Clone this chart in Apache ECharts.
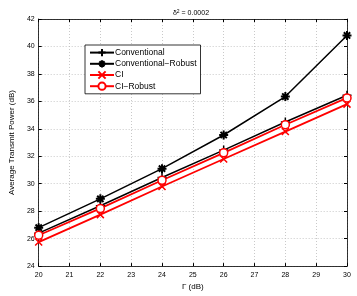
<!DOCTYPE html>
<html><head><meta charset="utf-8">
<script src="https://cdn.jsdelivr.net/npm/echarts@6/dist/echarts.min.js"></script>
<style>html,body{margin:0;padding:0;background:#fff}#c{width:357px;height:296px}</style>
</head><body><div id="c"></div>
<script>
const gammaDb = [20, 22, 24, 26, 28, 30];
const conventional = [26.4, 28.4, 30.45, 32.45, 34.5, 36.45];
const conventionalRobust = [26.8, 28.9, 31.1, 33.55, 36.35, 40.8];
const ci = [25.75, 27.75, 29.8, 31.8, 33.8, 35.8];
const ciRobust = [26.25, 28.2, 30.25, 32.25, 34.3, 36.25];
const seriesNames = ['Conventional', 'Conventional\u2212Robust', 'CI', 'CI\u2212Robust'];

const FONT = '"Liberation Sans", Arial, sans-serif';
const plus = 'path://M0,-1L0,1M-1,0L1,0';
const star = 'path://M0,-1L0,1M-1,0L1,0M-0.7,-0.7L0.7,0.7M-0.7,0.7L0.7,-0.7';
const cross = 'path://M-1,-1L1,1M-1,1L1,-1';

function mk(name, vals, color, symbol, size, lw, bw, fill) {
  return {
    name, type: 'line', data: gammaDb.map((g, i) => [g, vals[i]]),
    symbol, symbolSize: size, showAllSymbol: true,
    lineStyle: { color, width: lw },
    itemStyle: { color: fill, borderColor: color, borderWidth: bw },
    emphasis: { disabled: true }, animation: false, z: 3
  };
}

const chart = echarts.init(document.getElementById('c'));
chart.setOption({
  animation: false,
  title: { text: '\u03b4{s|2} = 0.0002', left: 186, top: 4, textAlign: 'center',
    textStyle: { fontFamily: FONT, fontSize: 7, fontWeight: 'normal', color: '#000',
      rich: { s: { fontFamily: FONT, fontSize: 5, verticalAlign: 'top', padding: [0, 0, 3, 0] } } } },
  grid: { left: 25, right: 10, top: 19, bottom: 23 },
  legend: {
    left: 85, top: 45, orient: 'vertical', data: seriesNames,
    backgroundColor: '#fff', borderColor: '#000', borderWidth: 0.8,
    padding: [3, 4, 3, 4], itemGap: 2, itemWidth: 24, itemHeight: 9,
    textStyle: { fontFamily: FONT, fontSize: 8.5, color: '#000', padding: [0, 0, 0, -4] }
  },
  xAxis: [{
    type: 'value', min: 20, max: 30, interval: 1,
    name: '\u0393 (dB)', nameLocation: 'middle', nameGap: 15,
    nameTextStyle: { fontFamily: FONT, fontSize: 8, color: '#000' },
    axisLine: { lineStyle: { color: '#000', width: 0.8 } },
    axisTick: { inside: true, length: 3, lineStyle: { color: '#000' } },
    axisLabel: { fontFamily: FONT, fontSize: 7, color: '#000', margin: 5 },
    splitLine: { show: true, lineStyle: { color: '#bbb', type: [1, 2], width: 0.8 } }
  }, {
    type: 'value', min: 20, max: 30, interval: 1, position: 'top',
    axisLine: { show: true, lineStyle: { color: '#000', width: 0.8 } },
    axisTick: { inside: true, length: 3, lineStyle: { color: '#000' } },
    axisLabel: { show: false }, splitLine: { show: false }
  }],
  yAxis: [{
    type: 'value', min: 24, max: 42, interval: 2,
    name: 'Average Transmit Power (dB)', nameLocation: 'middle', nameGap: 14,
    nameTextStyle: { fontFamily: FONT, fontSize: 8, color: '#000' },
    axisLine: { show: true, lineStyle: { color: '#000', width: 0.8 } },
    axisTick: { show: true, inside: true, length: 3, lineStyle: { color: '#000' } },
    axisLabel: { fontFamily: FONT, fontSize: 7, color: '#000', margin: 4 },
    splitLine: { show: true, lineStyle: { color: '#bbb', type: [1, 2], width: 0.8 } }
  }, {
    type: 'value', min: 24, max: 42, interval: 2, position: 'right',
    axisLine: { show: true, lineStyle: { color: '#000', width: 0.8 } },
    axisTick: { show: true, inside: true, length: 3, lineStyle: { color: '#000' } },
    axisLabel: { show: false }, splitLine: { show: false }
  }],
  series: [
    mk(seriesNames[0], conventional, '#000', plus, 9, 1.5, 1.5, '#000'),
    mk(seriesNames[1], conventionalRobust, '#000', star, 9, 1.5, 2, '#000'),
    mk(seriesNames[2], ci, '#ff0000', cross, 7, 1.8, 1.5, '#ff0000'),
    mk(seriesNames[3], ciRobust, '#ff0000', 'circle', 8, 1.8, 1.5, '#fff')
  ]
});
</script></body></html>
